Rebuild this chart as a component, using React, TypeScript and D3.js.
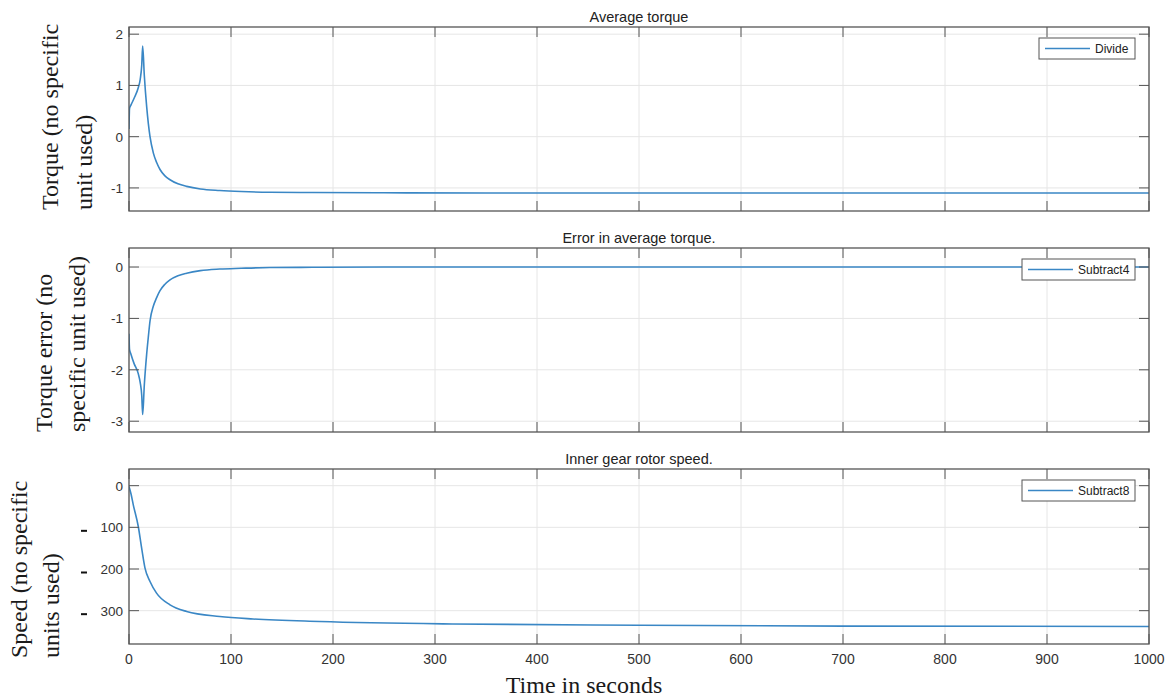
import React from "react";
import * as d3 from "d3";

// simulation output
const timeTorque = [0, 0.5, 2, 5, 9, 11, 12.5, 13.4, 15, 17.3, 19, 20.6, 23.9, 27, 30.4, 35, 40.2, 48, 56.5, 70, 89, 110, 138, 180, 250, 350, 500, 700, 1000];
const avgTorque = [0.15, 0.55, 0.62, 0.75, 0.95, 1.12, 1.4, 1.77, 1.2, 0.59, 0.25, 0.0, -0.32, -0.5, -0.64, -0.76, -0.84, -0.92, -0.97, -1.02, -1.05, -1.07, -1.085, -1.09, -1.095, -1.1, -1.1, -1.1, -1.1];
const torqueError = [-1.3, -1.6, -1.7, -1.88, -2.07, -2.25, -2.5, -2.87, -2.3, -1.7, -1.35, -1.05, -0.76, -0.6, -0.46, -0.34, -0.25, -0.17, -0.12, -0.07, -0.04, -0.025, -0.01, -0.005, 0, 0, 0, 0, 0];
const timeSpeed = [0, 2, 4.2, 9.1, 12.4, 15.7, 20.6, 27, 40.2, 56.5, 89, 121.6, 187, 317, 500, 700, 1000];
const rotorSpeed = [-2, -20, -46, -98, -150, -198, -230, -258, -286, -302, -314, -320, -326, -332, -335, -337, -338];

const xTicks = [0, 100, 200, 300, 400, 500, 600, 700, 800, 900, 1000];
const torqueTicks = [-1, 0, 1, 2];
const errorTicks = [-3, -2, -1, 0];
const speedTicks = [-300, -200, -100, 0];

const titles = ["Average torque", "Error in average torque.", "Inner gear rotor speed."];
const legendNames = ["Divide", "Subtract4", "Subtract8"];
const yLabels = [
  ["Torque (no specific", "unit used)"],
  ["Torque error (no", "specific unit used)"],
  ["Speed (no specific", "units used)"],
];

const W = 1169;
const H = 698;
const LEFT = 129;
const RIGHT = 1149;
const LINE = "#3a87c5";
const AXIS = "#555";
const SANS = "'Liberation Sans', Arial, Helvetica, sans-serif";
const SERIF = "'Liberation Serif', 'Times New Roman', serif";

const panels = [
  { top: 27, bottom: 211, domain: [-1.45, 2.14], ticks: torqueTicks, t: timeTorque, v: avgTorque, legendW: 96, labelX: [58, 92], labelY: 210 },
  { top: 248, bottom: 432, domain: [-3.21, 0.37], ticks: errorTicks, t: timeTorque, v: torqueError, legendW: 113, labelX: [52, 85], labelY: 432 },
  { top: 469, bottom: 644, domain: [-380, 40], ticks: speedTicks, t: timeSpeed, v: rotorSpeed, legendW: 113, labelX: [27, 59], labelY: 658 },
];

const x = d3.scaleLinear().domain([0, 1000]).range([LEFT, RIGHT]);

function Panel({ p, i }) {
  const y = d3.scaleLinear().domain(p.domain).range([p.bottom, p.top]);
  const pts = p.t.map((t, k) => [t, p.v[k]]);
  const line = d3.line().x(d => x(d[0])).y(d => y(d[1])).curve(d3.curveMonotoneX);
  const isLast = i === panels.length - 1;
  const lx = RIGHT - 14 - p.legendW;
  const ly = p.top + 11;

  return (
    <g>
      <rect x={LEFT} y={p.top} width={RIGHT - LEFT} height={p.bottom - p.top} fill="#fff" />
      {xTicks.map(t => (
        <line key={"gx" + t} x1={x(t)} x2={x(t)} y1={p.top} y2={p.bottom} stroke="#e6e6e6" />
      ))}
      {p.ticks.map(t => (
        <line key={"gy" + t} x1={LEFT} x2={RIGHT} y1={y(t)} y2={y(t)} stroke="#e6e6e6" />
      ))}
      <clipPath id={"clip" + i}>
        <rect x={LEFT} y={p.top} width={RIGHT - LEFT} height={p.bottom - p.top} />
      </clipPath>
      <path d={line(pts)} fill="none" stroke={LINE} strokeWidth={1.6} clipPath={`url(#clip${i})`} />

      {xTicks.map(t => (
        <g key={"tx" + t} stroke={AXIS} strokeWidth={1}>
          <line x1={x(t)} x2={x(t)} y1={p.bottom} y2={p.bottom - 10} />
          <line x1={x(t)} x2={x(t)} y1={p.top} y2={p.top + 10} />
        </g>
      ))}
      {p.ticks.map(t => (
        <g key={"ty" + t} stroke={AXIS} strokeWidth={1}>
          <line x1={LEFT} x2={LEFT + 10} y1={y(t)} y2={y(t)} />
          <line x1={RIGHT} x2={RIGHT - 10} y1={y(t)} y2={y(t)} />
        </g>
      ))}
      <rect x={LEFT} y={p.top} width={RIGHT - LEFT} height={p.bottom - p.top} fill="none" stroke={AXIS} strokeWidth={1.3} />

      {p.ticks.map(t => (
        <g key={"ly" + t}>
          <text x={LEFT - 6} y={y(t)} dy="0.36em" textAnchor="end" fontFamily={SANS} fontSize={13.5} fill="#333">
            {isLast ? Math.abs(t) : t}
          </text>
          {isLast && t < 0 && (
            <line x1={81} x2={87} y1={y(t) + 3.5} y2={y(t) + 3.5} stroke="#111" strokeWidth={2} />
          )}
        </g>
      ))}
      {isLast && xTicks.map(t => (
        <text key={"lx" + t} x={x(t)} y={664} textAnchor="middle" fontFamily={SANS} fontSize={14} fill="#333">{t}</text>
      ))}

      <text x={(LEFT + RIGHT) / 2} y={p.top - 5} textAnchor="middle" fontFamily={SANS} fontSize={14.5} fill="#222">{titles[i]}</text>

      {yLabels[i].map((s, k) => (
        <text key={k} transform={`translate(${p.labelX[k]},${p.labelY}) rotate(-90)`} fontFamily={SERIF} fontSize={24} fill="#1a1a1a">{s}</text>
      ))}

      <rect x={lx} y={ly} width={p.legendW} height={21} fill="#fff" stroke={AXIS} strokeWidth={1} />
      <line x1={lx + 6} x2={lx + 51} y1={ly + 10.5} y2={ly + 10.5} stroke={LINE} strokeWidth={1.6} />
      <text x={lx + 56} y={ly + 10.5} dy="0.36em" fontFamily={SANS} fontSize={12} fill="#222">{legendNames[i]}</text>
    </g>
  );
}

export default function App() {
  return (
    <svg width={W} height={H} style={{ position: "absolute", left: 0, top: 0, background: "#fff" }}>
      <rect width={W} height={H} fill="#fff" />
      {panels.map((p, i) => <Panel key={i} p={p} i={i} />)}
      <text x={584} y={693} textAnchor="middle" fontFamily={SERIF} fontSize={24} fill="#1a1a1a">Time in seconds</text>
    </svg>
  );
}
